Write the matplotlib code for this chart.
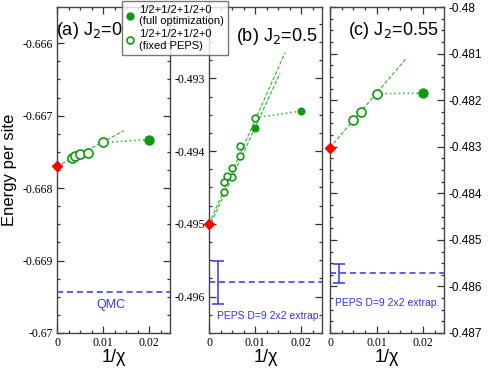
import numpy as np
from matplotlib import pyplot as plt
from matplotlib.ticker import MultipleLocator, FuncFormatter
from matplotlib.lines import Line2D

plt.rcParams['font.family'] = ['Liberation Sans', 'DejaVu Sans']

# (a) J2 = 0
a_chi_open = [300, 250, 200, 150, 100]
a_E_open = [-0.66759, -0.667555, -0.66753, -0.66752, -0.66737]
a_chi_full = [50]
a_E_full = [-0.66733]
a_extrap = -0.66770
a_fit = [-0.66770, 0.0339, 0.0145]  # intercept, slope, x end
a_qmc = -0.66944

# (b) J2 = 0.5
b_chi_open1 = [300, 250, 200, 150, 100]
b_E_open1 = [-0.49443, -0.49434, -0.49423, -0.49393, -0.49354]
b_chi_open2 = [300, 200, 150]
b_E_open2 = [-0.49456, -0.49435, -0.49407]
b_chi_full = [100, 50]
b_E_full = [-0.49368, -0.49345]
b_extrap = -0.49500
b_fit1 = [-0.49500, 0.1427, 0.0165]
b_fit2 = [-0.49505, 0.1377, 0.0154]
b_peps = -0.495805
b_peps_err = 0.0003

# (c) J2 = 0.55
c_chi_open = [200, 150, 100]
c_E_open = [-0.48242, -0.48226, -0.48186]
c_chi_full = [50]
c_E_full = [-0.48185]
c_extrap = -0.48302
c_fit = [-0.48302, 0.117, 0.01645]
c_peps = -0.48572
c_peps_err = 0.0002

green = '#119911'
fitgreen = '#44bb44'
blue = '#3333ee'
serif = 'Liberation Serif'

fig = plt.figure(figsize=(4.91, 3.79), dpi=100)
ax_a = fig.add_axes([0.1161, 0.1214, 0.2301, 0.860])
ax_b = fig.add_axes([0.4257, 0.1214, 0.2301, 0.860])
ax_c = fig.add_axes([0.6721, 0.1214, 0.2322, 0.860])

fmt = FuncFormatter(lambda v, p: '%g' % round(v, 6))


def style(ax, ylim):
    ax.set_xlim(0, 0.0245)
    ax.set_ylim(*ylim)
    ax.xaxis.set_major_locator(MultipleLocator(0.01))
    ax.xaxis.set_minor_locator(MultipleLocator(0.0025))
    ax.yaxis.set_major_locator(MultipleLocator(0.001))
    ax.yaxis.set_minor_locator(MultipleLocator(0.00025))
    ax.xaxis.set_major_formatter(fmt)
    ax.yaxis.set_major_formatter(fmt)
    ax.tick_params(which='both', direction='in', top=True, right=True,
                   color='#333333', width=0.9)
    ax.tick_params(which='major', length=5, pad=3, labelsize=8.5)
    ax.tick_params(which='minor', length=2.5)
    for lab in ax.get_xticklabels() + ax.get_yticklabels():
        lab.set_family(serif)
    for s in ax.spines.values():
        s.set_color('#444444')
        s.set_linewidth(1.0)
    ax.set_xlabel('1/χ', fontsize=13, labelpad=0)


def fit_line(ax, fit):
    x = np.array([0, fit[2]])
    ax.plot(x, fit[0] + fit[1] * x, '--', color=fitgreen, lw=0.9,
            dashes=(3, 1.5), zorder=2)


def panel(ax, chi_open, E_open, chi_full, E_full, extrap, ms):
    x_open = 1.0 / np.array(chi_open)
    x_full = 1.0 / np.array(chi_full)
    # dotted line from chi=100 open point to the chi=50 full point
    ax.plot([x_open[-1], x_full[-1]], [E_open[-1], E_full[-1]], ':',
            color=fitgreen, lw=1.2, zorder=2)
    ax.plot(x_open, E_open, 'o', mfc='white', mec=green, mew=1.2, ms=ms,
            ls='none', zorder=3)
    ax.plot(x_full, E_full, 'o', color=green, ms=ms, ls='none', zorder=3)
    ax.plot([0], [extrap], 'D', color='red', ms=5, clip_on=False, zorder=4)


# (a)
style(ax_a, (-0.67, -0.6655))
fit_line(ax_a, a_fit)
panel(ax_a, a_chi_open, a_E_open, a_chi_full, a_E_full, a_extrap, 6.5)
ax_a.axhline(a_qmc, color=blue, ls='--', lw=1.1, dashes=(4, 2.5))
ax_a.text(0.0118, -0.66962, 'QMC', color=blue, fontsize=9, ha='center', va='center')
ax_a.text(-0.0003, -0.66582, '(a) J$_2$=0', fontsize=13, ha='left', va='center')
ax_a.set_ylabel('Energy per site', fontsize=12, labelpad=4)

# (b)
style(ax_b, (-0.4965, -0.49202))
fit_line(ax_b, b_fit1)
fit_line(ax_b, b_fit2)
xb = 1.0 / np.array(b_chi_open2)
ax_b.plot(xb, b_E_open2, 'o', mfc='white', mec=green, mew=1.2, ms=4.8,
          ls='none', zorder=3)
panel(ax_b, b_chi_open1, b_E_open1, b_chi_full, b_E_full, b_extrap, 4.8)
ax_b.axhline(b_peps, color=blue, ls='--', lw=1.1, dashes=(4, 2.5))
ax_b.errorbar([0.0019], [b_peps], yerr=[b_peps_err], color=blue, capsize=4,
              lw=1.1, capthick=1.1)
ax_b.text(0.0018, -0.49627, 'PEPS D=9 2x2 extrap.', color=blue, fontsize=7.5,
          ha='left', va='center')
ax_b.text(0.0059, -0.49242, '(b) J$_2$=0.5', fontsize=13, ha='left', va='center')

# (c)
style(ax_c, (-0.487, -0.48))
ax_c.tick_params(labelleft=False, labelright=True)
fit_line(ax_c, c_fit)
panel(ax_c, c_chi_open, c_E_open, c_chi_full, c_E_full, c_extrap, 6.5)
ax_c.axhline(c_peps, color=blue, ls='--', lw=1.1, dashes=(4, 2.5))
ax_c.errorbar([0.0019], [c_peps], yerr=[c_peps_err], color=blue, capsize=4,
              lw=1.1, capthick=1.1)
ax_c.text(0.0010, -0.48636, 'PEPS D=9 2x2 extrap.', color=blue, fontsize=7.5,
          ha='left', va='center')
ax_c.text(0.0038, -0.48050, '(c) J$_2$=0.55', fontsize=13, ha='left', va='center')

handles = [Line2D([], [], marker='o', ls='none', color=green, ms=5),
           Line2D([], [], marker='o', ls='none', mfc='white', mec=green,
                  mew=1.2, ms=5)]
labels = ['1/2+1/2+1/2+0\n(full optimization)', '1/2+1/2+1/2+0\n(fixed PEPS)']
leg = fig.legend(handles, labels, loc='upper left',
                 bbox_to_anchor=(0.2485, 0.998), fontsize=8, frameon=True,
                 fancybox=False, borderpad=0.35, handlelength=0.8,
                 handletextpad=0.4, labelspacing=0.25, borderaxespad=0)
leg.get_frame().set_edgecolor('#555555')
leg.get_frame().set_linewidth(1.0)
leg.set_zorder(10)

fig.savefig('out.png', dpi=100)
